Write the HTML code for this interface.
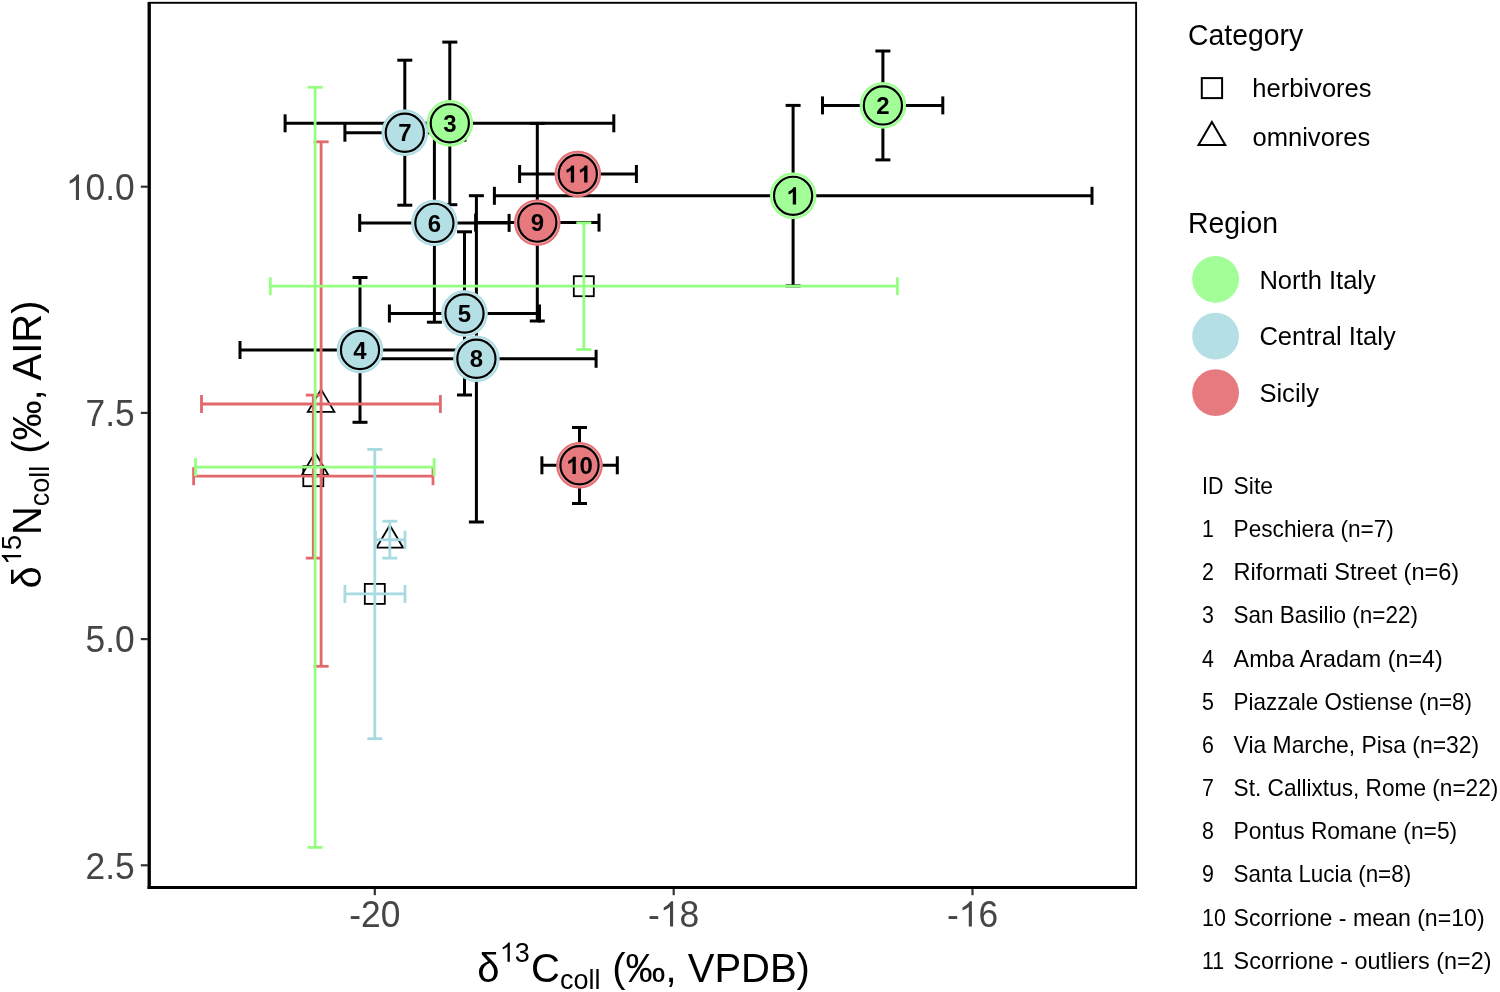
<!DOCTYPE html>
<html><head><meta charset="utf-8"><title>Isotope plot</title><style>
*{margin:0;padding:0}
html,body{width:1500px;height:992px;background:#fff;overflow:hidden}
svg{display:block;will-change:transform}
text{font-family:"Liberation Sans",sans-serif}
.lab{font-size:24px;font-weight:bold;text-anchor:middle;fill:#000}
.ytl{font-size:35.4px;fill:#454545;text-anchor:end}
.xtl{font-size:35.4px;fill:#454545;text-anchor:middle}
.at{font-size:40px;fill:#000}
.ss{font-size:27px}
.lt{font-size:28.4px;fill:#000}
.li{font-size:25.55px;fill:#000}
.tb{font-size:24px;fill:#000}
</style></head>
<body><svg width="1500" height="992" viewBox="0 0 1500 992">
<rect width="1500" height="992" fill="#fff"/>
<g id="blackbars"><line x1="494.4" y1="195.8" x2="1092.0" y2="195.8" stroke="#000" stroke-width="3"/><line x1="494.4" y1="186.8" x2="494.4" y2="204.8" stroke="#000" stroke-width="3"/><line x1="1092.0" y1="186.8" x2="1092.0" y2="204.8" stroke="#000" stroke-width="3"/><line x1="793.1" y1="105.4" x2="793.1" y2="285.9" stroke="#000" stroke-width="3"/><line x1="785.6" y1="105.4" x2="800.6" y2="105.4" stroke="#000" stroke-width="3"/><line x1="785.6" y1="285.9" x2="800.6" y2="285.9" stroke="#000" stroke-width="3"/><line x1="822.5" y1="105.4" x2="942.8" y2="105.4" stroke="#000" stroke-width="3"/><line x1="822.5" y1="96.4" x2="822.5" y2="114.4" stroke="#000" stroke-width="3"/><line x1="942.8" y1="96.4" x2="942.8" y2="114.4" stroke="#000" stroke-width="3"/><line x1="882.9" y1="51.0" x2="882.9" y2="159.9" stroke="#000" stroke-width="3"/><line x1="875.4" y1="51.0" x2="890.4" y2="51.0" stroke="#000" stroke-width="3"/><line x1="875.4" y1="159.9" x2="890.4" y2="159.9" stroke="#000" stroke-width="3"/><line x1="285.1" y1="123.3" x2="613.8" y2="123.3" stroke="#000" stroke-width="3"/><line x1="285.1" y1="114.3" x2="285.1" y2="132.3" stroke="#000" stroke-width="3"/><line x1="613.8" y1="114.3" x2="613.8" y2="132.3" stroke="#000" stroke-width="3"/><line x1="449.8" y1="42.1" x2="449.8" y2="204.7" stroke="#000" stroke-width="3"/><line x1="442.3" y1="42.1" x2="457.3" y2="42.1" stroke="#000" stroke-width="3"/><line x1="442.3" y1="204.7" x2="457.3" y2="204.7" stroke="#000" stroke-width="3"/><line x1="240.0" y1="350.0" x2="480.0" y2="350.0" stroke="#000" stroke-width="3"/><line x1="240.0" y1="341.0" x2="240.0" y2="359.0" stroke="#000" stroke-width="3"/><line x1="480.0" y1="341.0" x2="480.0" y2="359.0" stroke="#000" stroke-width="3"/><line x1="360.0" y1="277.5" x2="360.0" y2="422.3" stroke="#000" stroke-width="3"/><line x1="352.5" y1="277.5" x2="367.5" y2="277.5" stroke="#000" stroke-width="3"/><line x1="352.5" y1="422.3" x2="367.5" y2="422.3" stroke="#000" stroke-width="3"/><line x1="389.4" y1="313.5" x2="539.5" y2="313.5" stroke="#000" stroke-width="3"/><line x1="389.4" y1="304.5" x2="389.4" y2="322.5" stroke="#000" stroke-width="3"/><line x1="539.5" y1="304.5" x2="539.5" y2="322.5" stroke="#000" stroke-width="3"/><line x1="464.5" y1="231.8" x2="464.5" y2="395.0" stroke="#000" stroke-width="3"/><line x1="457.0" y1="231.8" x2="472.0" y2="231.8" stroke="#000" stroke-width="3"/><line x1="457.0" y1="395.0" x2="472.0" y2="395.0" stroke="#000" stroke-width="3"/><line x1="359.7" y1="222.9" x2="509.1" y2="222.9" stroke="#000" stroke-width="3"/><line x1="359.7" y1="213.9" x2="359.7" y2="231.9" stroke="#000" stroke-width="3"/><line x1="509.1" y1="213.9" x2="509.1" y2="231.9" stroke="#000" stroke-width="3"/><line x1="434.4" y1="123.6" x2="434.4" y2="322.2" stroke="#000" stroke-width="3"/><line x1="426.9" y1="123.6" x2="441.9" y2="123.6" stroke="#000" stroke-width="3"/><line x1="426.9" y1="322.2" x2="441.9" y2="322.2" stroke="#000" stroke-width="3"/><line x1="344.9" y1="132.7" x2="464.9" y2="132.7" stroke="#000" stroke-width="3"/><line x1="344.9" y1="123.7" x2="344.9" y2="141.7" stroke="#000" stroke-width="3"/><line x1="464.9" y1="123.7" x2="464.9" y2="141.7" stroke="#000" stroke-width="3"/><line x1="404.8" y1="60.2" x2="404.8" y2="205.2" stroke="#000" stroke-width="3"/><line x1="397.3" y1="60.2" x2="412.3" y2="60.2" stroke="#000" stroke-width="3"/><line x1="397.3" y1="205.2" x2="412.3" y2="205.2" stroke="#000" stroke-width="3"/><line x1="356.7" y1="358.8" x2="596.1" y2="358.8" stroke="#000" stroke-width="3"/><line x1="356.7" y1="349.8" x2="356.7" y2="367.8" stroke="#000" stroke-width="3"/><line x1="596.1" y1="349.8" x2="596.1" y2="367.8" stroke="#000" stroke-width="3"/><line x1="476.4" y1="195.7" x2="476.4" y2="522.0" stroke="#000" stroke-width="3"/><line x1="468.9" y1="195.7" x2="483.9" y2="195.7" stroke="#000" stroke-width="3"/><line x1="468.9" y1="522.0" x2="483.9" y2="522.0" stroke="#000" stroke-width="3"/><line x1="475.6" y1="222.6" x2="599.0" y2="222.6" stroke="#000" stroke-width="3"/><line x1="475.6" y1="213.6" x2="475.6" y2="231.6" stroke="#000" stroke-width="3"/><line x1="599.0" y1="213.6" x2="599.0" y2="231.6" stroke="#000" stroke-width="3"/><line x1="537.3" y1="123.4" x2="537.3" y2="321.0" stroke="#000" stroke-width="3"/><line x1="529.8" y1="123.4" x2="544.8" y2="123.4" stroke="#000" stroke-width="3"/><line x1="529.8" y1="321.0" x2="544.8" y2="321.0" stroke="#000" stroke-width="3"/><line x1="541.9" y1="465.3" x2="617.3" y2="465.3" stroke="#000" stroke-width="3"/><line x1="541.9" y1="456.3" x2="541.9" y2="474.3" stroke="#000" stroke-width="3"/><line x1="617.3" y1="456.3" x2="617.3" y2="474.3" stroke="#000" stroke-width="3"/><line x1="579.5" y1="427.5" x2="579.5" y2="503.5" stroke="#000" stroke-width="3"/><line x1="572.0" y1="427.5" x2="587.0" y2="427.5" stroke="#000" stroke-width="3"/><line x1="572.0" y1="503.5" x2="587.0" y2="503.5" stroke="#000" stroke-width="3"/><line x1="519.6" y1="174.0" x2="636.4" y2="174.0" stroke="#000" stroke-width="3"/><line x1="519.6" y1="165.0" x2="519.6" y2="183.0" stroke="#000" stroke-width="3"/><line x1="636.4" y1="165.0" x2="636.4" y2="183.0" stroke="#000" stroke-width="3"/></g>
<g id="fauna"><rect x="573.8" y="276.2" width="20" height="20" fill="none" stroke="#000" stroke-width="1.8"/><path d="M315.1 452.5 L328.4 475.0 L301.8 475.0 Z" fill="none" stroke="#000" stroke-width="1.8"/><rect x="364.8" y="583.9" width="20" height="20" fill="none" stroke="#000" stroke-width="1.8"/><path d="M389.8 525.2 L403.1 547.7 L376.5 547.7 Z" fill="none" stroke="#000" stroke-width="1.8"/><rect x="303.3" y="466.2" width="20" height="20" fill="none" stroke="#000" stroke-width="1.8"/><path d="M321.1 389.4 L334.4 411.9 L307.8 411.9 Z" fill="none" stroke="#000" stroke-width="1.8"/></g>
<g id="colbars"><line x1="193.6" y1="476.2" x2="433.0" y2="476.2" stroke="#E2686C" stroke-width="2.8"/><line x1="193.6" y1="467.2" x2="193.6" y2="485.2" stroke="#E2686C" stroke-width="2.8"/><line x1="433.0" y1="467.2" x2="433.0" y2="485.2" stroke="#E2686C" stroke-width="2.8"/><line x1="313.3" y1="395.1" x2="313.3" y2="558.1" stroke="#E2686C" stroke-width="2.8"/><line x1="305.8" y1="395.1" x2="320.8" y2="395.1" stroke="#E2686C" stroke-width="2.8"/><line x1="305.8" y1="558.1" x2="320.8" y2="558.1" stroke="#E2686C" stroke-width="2.8"/><line x1="201.5" y1="404.0" x2="440.4" y2="404.0" stroke="#E2686C" stroke-width="2.8"/><line x1="201.5" y1="395.0" x2="201.5" y2="413.0" stroke="#E2686C" stroke-width="2.8"/><line x1="440.4" y1="395.0" x2="440.4" y2="413.0" stroke="#E2686C" stroke-width="2.8"/><line x1="321.1" y1="141.8" x2="321.1" y2="666.3" stroke="#E2686C" stroke-width="2.8"/><line x1="313.6" y1="141.8" x2="328.6" y2="141.8" stroke="#E2686C" stroke-width="2.8"/><line x1="313.6" y1="666.3" x2="328.6" y2="666.3" stroke="#E2686C" stroke-width="2.8"/><line x1="344.9" y1="593.9" x2="405.0" y2="593.9" stroke="#A8DAE2" stroke-width="2.8"/><line x1="344.9" y1="584.9" x2="344.9" y2="602.9" stroke="#A8DAE2" stroke-width="2.8"/><line x1="405.0" y1="584.9" x2="405.0" y2="602.9" stroke="#A8DAE2" stroke-width="2.8"/><line x1="374.8" y1="449.4" x2="374.8" y2="738.7" stroke="#A8DAE2" stroke-width="2.8"/><line x1="367.3" y1="449.4" x2="382.3" y2="449.4" stroke="#A8DAE2" stroke-width="2.8"/><line x1="367.3" y1="738.7" x2="382.3" y2="738.7" stroke="#A8DAE2" stroke-width="2.8"/><line x1="375.4" y1="539.8" x2="405.0" y2="539.8" stroke="#A8DAE2" stroke-width="2.8"/><line x1="375.4" y1="530.8" x2="375.4" y2="548.8" stroke="#A8DAE2" stroke-width="2.8"/><line x1="405.0" y1="530.8" x2="405.0" y2="548.8" stroke="#A8DAE2" stroke-width="2.8"/><line x1="389.8" y1="521.2" x2="389.8" y2="558.1" stroke="#A8DAE2" stroke-width="2.8"/><line x1="382.3" y1="521.2" x2="397.3" y2="521.2" stroke="#A8DAE2" stroke-width="2.8"/><line x1="382.3" y1="558.1" x2="397.3" y2="558.1" stroke="#A8DAE2" stroke-width="2.8"/><line x1="270.3" y1="286.2" x2="897.4" y2="286.2" stroke="#96FF82" stroke-width="2.8"/><line x1="270.3" y1="277.2" x2="270.3" y2="295.2" stroke="#96FF82" stroke-width="2.8"/><line x1="897.4" y1="277.2" x2="897.4" y2="295.2" stroke="#96FF82" stroke-width="2.8"/><line x1="583.8" y1="222.9" x2="583.8" y2="349.5" stroke="#96FF82" stroke-width="2.8"/><line x1="576.3" y1="222.9" x2="591.3" y2="222.9" stroke="#96FF82" stroke-width="2.8"/><line x1="576.3" y1="349.5" x2="591.3" y2="349.5" stroke="#96FF82" stroke-width="2.8"/><line x1="195.5" y1="467.1" x2="434.2" y2="467.1" stroke="#96FF82" stroke-width="2.8"/><line x1="195.5" y1="458.1" x2="195.5" y2="476.1" stroke="#96FF82" stroke-width="2.8"/><line x1="434.2" y1="458.1" x2="434.2" y2="476.1" stroke="#96FF82" stroke-width="2.8"/><line x1="315.1" y1="87.3" x2="315.1" y2="847.4" stroke="#96FF82" stroke-width="2.8"/><line x1="307.6" y1="87.3" x2="322.6" y2="87.3" stroke="#96FF82" stroke-width="2.8"/><line x1="307.6" y1="847.4" x2="322.6" y2="847.4" stroke="#96FF82" stroke-width="2.8"/></g>
<g id="sites"><circle cx="793.1" cy="195.8" r="23.2" fill="#A2FF98"/><circle cx="793.1" cy="195.8" r="22.6" fill="none" stroke="#96FF82" stroke-opacity="0.7" stroke-width="1.1"/><circle cx="793.1" cy="195.8" r="20.6" fill="none" stroke="#fff" stroke-opacity="0.3" stroke-width="1.3"/><circle cx="793.1" cy="195.8" r="19.1" fill="#A2FF98" stroke="#000" stroke-width="2.15"/><circle cx="882.9" cy="105.4" r="23.2" fill="#A2FF98"/><circle cx="882.9" cy="105.4" r="22.6" fill="none" stroke="#96FF82" stroke-opacity="0.7" stroke-width="1.1"/><circle cx="882.9" cy="105.4" r="20.6" fill="none" stroke="#fff" stroke-opacity="0.3" stroke-width="1.3"/><circle cx="882.9" cy="105.4" r="19.1" fill="#A2FF98" stroke="#000" stroke-width="2.15"/><circle cx="449.8" cy="123.3" r="23.2" fill="#A2FF98"/><circle cx="449.8" cy="123.3" r="22.6" fill="none" stroke="#96FF82" stroke-opacity="0.7" stroke-width="1.1"/><circle cx="449.8" cy="123.3" r="20.6" fill="none" stroke="#fff" stroke-opacity="0.3" stroke-width="1.3"/><circle cx="449.8" cy="123.3" r="19.1" fill="#A2FF98" stroke="#000" stroke-width="2.15"/><circle cx="360.0" cy="350.0" r="23.2" fill="#B4DFE5"/><circle cx="360.0" cy="350.0" r="22.6" fill="none" stroke="#A8DAE2" stroke-opacity="0.7" stroke-width="1.1"/><circle cx="360.0" cy="350.0" r="20.6" fill="none" stroke="#fff" stroke-opacity="0.3" stroke-width="1.3"/><circle cx="360.0" cy="350.0" r="19.1" fill="#B4DFE5" stroke="#000" stroke-width="2.15"/><circle cx="464.5" cy="313.5" r="23.2" fill="#B4DFE5"/><circle cx="464.5" cy="313.5" r="22.6" fill="none" stroke="#A8DAE2" stroke-opacity="0.7" stroke-width="1.1"/><circle cx="464.5" cy="313.5" r="20.6" fill="none" stroke="#fff" stroke-opacity="0.3" stroke-width="1.3"/><circle cx="464.5" cy="313.5" r="19.1" fill="#B4DFE5" stroke="#000" stroke-width="2.15"/><circle cx="434.4" cy="222.9" r="23.2" fill="#B4DFE5"/><circle cx="434.4" cy="222.9" r="22.6" fill="none" stroke="#A8DAE2" stroke-opacity="0.7" stroke-width="1.1"/><circle cx="434.4" cy="222.9" r="20.6" fill="none" stroke="#fff" stroke-opacity="0.3" stroke-width="1.3"/><circle cx="434.4" cy="222.9" r="19.1" fill="#B4DFE5" stroke="#000" stroke-width="2.15"/><circle cx="404.8" cy="132.7" r="23.2" fill="#B4DFE5"/><circle cx="404.8" cy="132.7" r="22.6" fill="none" stroke="#A8DAE2" stroke-opacity="0.7" stroke-width="1.1"/><circle cx="404.8" cy="132.7" r="20.6" fill="none" stroke="#fff" stroke-opacity="0.3" stroke-width="1.3"/><circle cx="404.8" cy="132.7" r="19.1" fill="#B4DFE5" stroke="#000" stroke-width="2.15"/><circle cx="476.4" cy="358.8" r="23.2" fill="#B4DFE5"/><circle cx="476.4" cy="358.8" r="22.6" fill="none" stroke="#A8DAE2" stroke-opacity="0.7" stroke-width="1.1"/><circle cx="476.4" cy="358.8" r="20.6" fill="none" stroke="#fff" stroke-opacity="0.3" stroke-width="1.3"/><circle cx="476.4" cy="358.8" r="19.1" fill="#B4DFE5" stroke="#000" stroke-width="2.15"/><circle cx="537.3" cy="222.6" r="23.2" fill="#E77A7E"/><circle cx="537.3" cy="222.6" r="22.6" fill="none" stroke="#E2686C" stroke-opacity="0.7" stroke-width="1.1"/><circle cx="537.3" cy="222.6" r="20.6" fill="none" stroke="#fff" stroke-opacity="0.3" stroke-width="1.3"/><circle cx="537.3" cy="222.6" r="19.1" fill="#E77A7E" stroke="#000" stroke-width="2.15"/><circle cx="579.5" cy="465.3" r="23.2" fill="#E77A7E"/><circle cx="579.5" cy="465.3" r="22.6" fill="none" stroke="#E2686C" stroke-opacity="0.7" stroke-width="1.1"/><circle cx="579.5" cy="465.3" r="20.6" fill="none" stroke="#fff" stroke-opacity="0.3" stroke-width="1.3"/><circle cx="579.5" cy="465.3" r="19.1" fill="#E77A7E" stroke="#000" stroke-width="2.15"/><circle cx="577.8" cy="174.0" r="23.2" fill="#E77A7E"/><circle cx="577.8" cy="174.0" r="22.6" fill="none" stroke="#E2686C" stroke-opacity="0.7" stroke-width="1.1"/><circle cx="577.8" cy="174.0" r="20.6" fill="none" stroke="#fff" stroke-opacity="0.3" stroke-width="1.3"/><circle cx="577.8" cy="174.0" r="19.1" fill="#E77A7E" stroke="#000" stroke-width="2.15"/></g>
<g id="labs"><path transform="translate(786.43 204.40) scale(0.01172 -0.01172)" d="M823 0L542 0L542 1059C450 975 320 890 179 846L179 1101C340 1155 540 1300 595 1466L823 1466Z" fill="#000"/><text transform="translate(876.23 114.00) scale(1 1.035)" class="lab" style="text-anchor:start">2</text><text transform="translate(443.13 131.90) scale(1 1.035)" class="lab" style="text-anchor:start">3</text><text transform="translate(353.33 358.60) scale(1 1.035)" class="lab" style="text-anchor:start">4</text><text transform="translate(457.83 322.10) scale(1 1.035)" class="lab" style="text-anchor:start">5</text><text transform="translate(427.73 231.50) scale(1 1.035)" class="lab" style="text-anchor:start">6</text><text transform="translate(398.13 141.30) scale(1 1.035)" class="lab" style="text-anchor:start">7</text><text transform="translate(469.73 367.40) scale(1 1.035)" class="lab" style="text-anchor:start">8</text><text transform="translate(530.63 231.20) scale(1 1.035)" class="lab" style="text-anchor:start">9</text><path transform="translate(566.15 473.90) scale(0.01172 -0.01172)" d="M823 0L542 0L542 1059C450 975 320 890 179 846L179 1101C340 1155 540 1300 595 1466L823 1466Z" fill="#000"/><text transform="translate(579.50 473.90) scale(1 1.035)" class="lab" style="text-anchor:start">0</text><path transform="translate(564.45 182.60) scale(0.01172 -0.01172)" d="M823 0L542 0L542 1059C450 975 320 890 179 846L179 1101C340 1155 540 1300 595 1466L823 1466Z" fill="#000"/><path transform="translate(577.80 182.60) scale(0.01172 -0.01172)" d="M823 0L542 0L542 1059C450 975 320 890 179 846L179 1101C340 1155 540 1300 595 1466L823 1466Z" fill="#000"/></g>
<g id="axes"><rect x="149.2" y="2.8" width="986.9" height="884.7" fill="none" stroke="#000" stroke-width="1.9"/><line x1="149.2" y1="1.9" x2="149.2" y2="889" stroke="#000" stroke-width="3.3"/><line x1="147.6" y1="887.5" x2="1137" y2="887.5" stroke="#000" stroke-width="3"/><line x1="140.8" y1="186.7" x2="148" y2="186.7" stroke="#333" stroke-width="2.2"/><line x1="140.8" y1="412.9" x2="148" y2="412.9" stroke="#333" stroke-width="2.2"/><line x1="140.8" y1="639.1" x2="148" y2="639.1" stroke="#333" stroke-width="2.2"/><line x1="140.8" y1="865.3" x2="148" y2="865.3" stroke="#333" stroke-width="2.2"/><line x1="374.8" y1="889" x2="374.8" y2="895.2" stroke="#333" stroke-width="2.2"/><line x1="673.7" y1="889" x2="673.7" y2="895.2" stroke="#333" stroke-width="2.2"/><line x1="972.5" y1="889" x2="972.5" y2="895.2" stroke="#333" stroke-width="2.2"/></g>
<g id="legend"><rect x="1201.8" y="78.1" width="20.3" height="20" fill="none" stroke="#000" stroke-width="2"/><path d="M1211.9 122.0 L1225.3 145.0 L1198.5 145.0 Z" fill="none" stroke="#000" stroke-width="2"/><circle cx="1215.6" cy="279.3" r="23.4" fill="#A2FF98"/><circle cx="1215.6" cy="336.2" r="23.4" fill="#B4DFE5"/><circle cx="1215.6" cy="392.7" r="23.4" fill="#E77A7E"/></g>
<g id="txt"><path transform="translate(65.80 199.90) scale(0.01729 -0.01729)" d="M763 0L583 0L583 1147C480 1050 330 970 221 930L221 1104C372 1175 560 1320 645 1466L763 1466Z" fill="#454545"/><text transform="translate(85.49 199.90) scale(1 1.035)" class="ytl" style="text-anchor:start">0.0</text><text transform="translate(85.49 426.10) scale(1 1.035)" class="ytl" style="text-anchor:start">7.5</text><text transform="translate(85.49 652.30) scale(1 1.035)" class="ytl" style="text-anchor:start">5.0</text><text transform="translate(85.49 878.50) scale(1 1.035)" class="ytl" style="text-anchor:start">2.5</text><text transform="translate(349.22 926.60) scale(1 1.035)" class="xtl" style="text-anchor:start">-20</text><text transform="translate(648.12 926.60) scale(1 1.035)" class="xtl" style="text-anchor:start">-</text><path transform="translate(659.91 926.60) scale(0.01729 -0.01729)" d="M763 0L583 0L583 1147C480 1050 330 970 221 930L221 1104C372 1175 560 1320 645 1466L763 1466Z" fill="#454545"/><text transform="translate(679.59 926.60) scale(1 1.035)" class="xtl" style="text-anchor:start">8</text><text transform="translate(946.92 926.60) scale(1 1.035)" class="xtl" style="text-anchor:start">-</text><path transform="translate(958.71 926.60) scale(0.01729 -0.01729)" d="M763 0L583 0L583 1147C480 1050 330 970 221 930L221 1104C372 1175 560 1320 645 1466L763 1466Z" fill="#454545"/><text transform="translate(978.39 926.60) scale(1 1.035)" class="xtl" style="text-anchor:start">6</text><g transform="translate(477.3 981.8) scale(1 1.035)"><path transform="translate(22.5 -19.4) scale(0.01318 -0.01274)" d="M763 0L583 0L583 1147C480 1050 330 970 221 930L221 1104C372 1175 560 1320 645 1466L763 1466Z"/><text class="at"><tspan x="0" y="0">δ</tspan><tspan x="37.52" y="-19.4" class="ss">3</tspan><tspan x="53.8" y="0">C</tspan><tspan x="82.6" y="7.2" class="ss">coll</tspan><tspan x="123.8" y="0"> (‰, VPDB)</tspan></text></g><g transform="translate(41.2 588.5) rotate(-90) scale(1 1.035)"><path transform="translate(23.5 -19.4) scale(0.01318 -0.01274)" d="M763 0L583 0L583 1147C480 1050 330 970 221 930L221 1104C372 1175 560 1320 645 1466L763 1466Z"/><text class="at"><tspan x="0" y="0">δ</tspan><tspan x="38.5" y="-19.4" class="ss">5</tspan><tspan x="53.5" y="0">N</tspan><tspan x="82.2" y="7.2" class="ss">coll</tspan><tspan x="123.6" y="0"> (‰, AIR)</tspan></text></g><text transform="translate(1188.00 44.60) scale(1 1.035)" class="lt">Category</text><text transform="translate(1252.30 96.90) scale(1 1.0)" class="li">herbivores</text><text transform="translate(1252.50 145.60) scale(1 1.0)" class="li">omnivores</text><text transform="translate(1188.00 232.60) scale(1 1.035)" class="lt">Region</text><text transform="translate(1259.40 289.10) scale(1 1.02)" class="li">North Italy</text><text transform="translate(1259.40 344.80) scale(1 1.02)" class="li">Central Italy</text><text transform="translate(1259.40 401.60) scale(1 1.02)" class="li">Sicily</text><text transform="translate(1202.00 494.00) scale(1 1.0)" class="tb" textLength="21.4" lengthAdjust="spacingAndGlyphs">ID</text><text transform="translate(1233.60 494.00) scale(1 1.0)" class="tb" textLength="39.4" lengthAdjust="spacingAndGlyphs">Site</text><text transform="translate(1202.00 537.15) scale(1 1.0)" class="tb" textLength="11.9" lengthAdjust="spacingAndGlyphs">1</text><text transform="translate(1233.60 537.15) scale(1 1.0)" class="tb" textLength="160.3" lengthAdjust="spacingAndGlyphs">Peschiera (n=7)</text><text transform="translate(1202.00 580.30) scale(1 1.0)" class="tb" textLength="11.9" lengthAdjust="spacingAndGlyphs">2</text><text transform="translate(1233.60 580.30) scale(1 1.0)" class="tb" textLength="225.6" lengthAdjust="spacingAndGlyphs">Riformati Street (n=6)</text><text transform="translate(1202.00 623.45) scale(1 1.0)" class="tb" textLength="11.9" lengthAdjust="spacingAndGlyphs">3</text><text transform="translate(1233.60 623.45) scale(1 1.0)" class="tb" textLength="184.4" lengthAdjust="spacingAndGlyphs">San Basilio (n=22)</text><text transform="translate(1202.00 666.60) scale(1 1.0)" class="tb" textLength="11.9" lengthAdjust="spacingAndGlyphs">4</text><text transform="translate(1233.60 666.60) scale(1 1.0)" class="tb" textLength="209.1" lengthAdjust="spacingAndGlyphs">Amba Aradam (n=4)</text><text transform="translate(1202.00 709.75) scale(1 1.0)" class="tb" textLength="11.9" lengthAdjust="spacingAndGlyphs">5</text><text transform="translate(1233.60 709.75) scale(1 1.0)" class="tb" textLength="238.4" lengthAdjust="spacingAndGlyphs">Piazzale Ostiense (n=8)</text><text transform="translate(1202.00 752.90) scale(1 1.0)" class="tb" textLength="11.9" lengthAdjust="spacingAndGlyphs">6</text><text transform="translate(1233.60 752.90) scale(1 1.0)" class="tb" textLength="245.5" lengthAdjust="spacingAndGlyphs">Via Marche, Pisa (n=32)</text><text transform="translate(1202.00 796.05) scale(1 1.0)" class="tb" textLength="11.9" lengthAdjust="spacingAndGlyphs">7</text><text transform="translate(1233.60 796.05) scale(1 1.0)" class="tb" textLength="264.7" lengthAdjust="spacingAndGlyphs">St. Callixtus, Rome (n=22)</text><text transform="translate(1202.00 839.20) scale(1 1.0)" class="tb" textLength="11.9" lengthAdjust="spacingAndGlyphs">8</text><text transform="translate(1233.60 839.20) scale(1 1.0)" class="tb" textLength="223.6" lengthAdjust="spacingAndGlyphs">Pontus Romane (n=5)</text><text transform="translate(1202.00 882.35) scale(1 1.0)" class="tb" textLength="11.9" lengthAdjust="spacingAndGlyphs">9</text><text transform="translate(1233.60 882.35) scale(1 1.0)" class="tb" textLength="177.5" lengthAdjust="spacingAndGlyphs">Santa Lucia (n=8)</text><text transform="translate(1202.00 925.50) scale(1 1.0)" class="tb" textLength="23.8" lengthAdjust="spacingAndGlyphs">10</text><text transform="translate(1233.60 925.50) scale(1 1.0)" class="tb" textLength="251.0" lengthAdjust="spacingAndGlyphs">Scorrione - mean (n=10)</text><text transform="translate(1202.00 968.65) scale(1 1.0)" class="tb" textLength="22.2" lengthAdjust="spacingAndGlyphs">11</text><text transform="translate(1233.60 968.65) scale(1 1.0)" class="tb" textLength="257.9" lengthAdjust="spacingAndGlyphs">Scorrione - outliers (n=2)</text></g>
</svg></body></html>
